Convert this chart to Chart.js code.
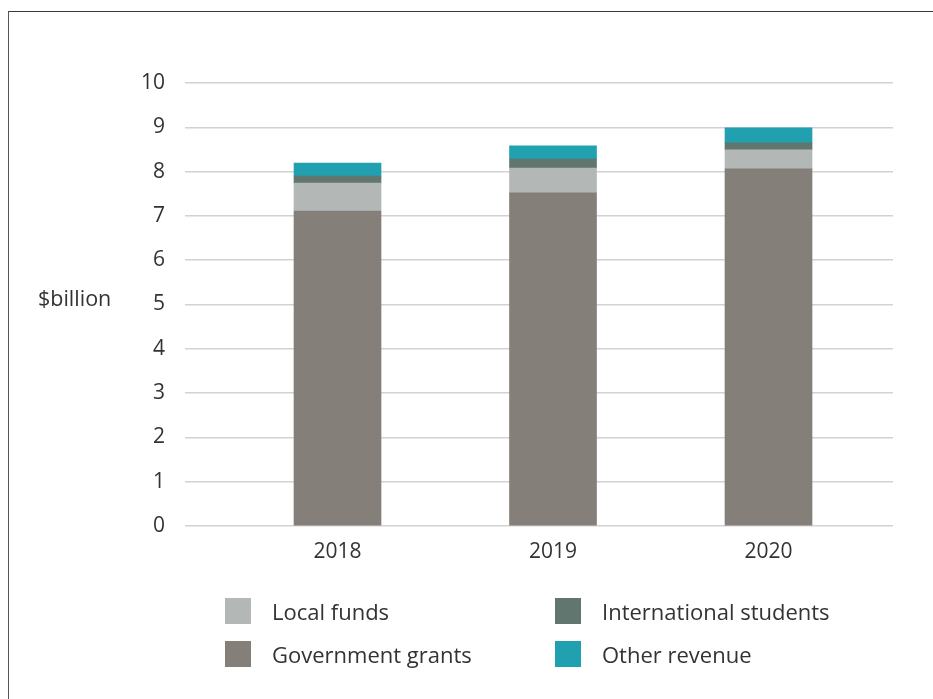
<!DOCTYPE html>
<html>
<head>
<meta charset="utf-8">
<script src="https://cdn.jsdelivr.net/npm/chart.js@4/dist/chart.umd.min.js"></script>
<style>
  html, body { margin: 0; padding: 0; background: #fff; }
  body { width: 933px; height: 699px; position: relative; overflow: hidden; font-family: "Open Sans", sans-serif; }
  #frame { position: absolute; left: 8px; top: 11px; width: 940px; height: 700px; border-top: 1.5px solid #3a3a3a; border-left: 1.5px solid #555; box-sizing: border-box; }
  #wrap { position: absolute; left: 0; top: 0; width: 933px; height: 699px; }
  .lg { position: absolute; height: 26px; display: flex; align-items: center; font-size: 22px; color: #333; white-space: nowrap; }
  .lg .sw { width: 26px; height: 26px; margin-right: 21px; flex: none; }
</style>
</head>
<body>
<div id="frame"></div>
<div id="wrap"><canvas id="c" width="933" height="699"></canvas></div>
<div id="legend"></div>
<script>
// ---- data ----
const years = ['2018', '2019', '2020'];
const governmentGrants = [7.11, 7.52, 8.06];
const localFunds = [0.63, 0.56, 0.43];
const internationalStudents = [0.16, 0.20, 0.16];
const otherRevenue = [0.29, 0.30, 0.34];
const yTicks = [0, 1, 2, 3, 4, 5, 6, 7, 8, 9, 10];
const yAxisLabel = '$billion';

const toPoints = arr => arr.map((v, i) => ({ x: i, y: v }));

const datasets = [
  { label: 'Government grants', data: toPoints(governmentGrants), backgroundColor: '#847f78' },
  { label: 'Local funds', data: toPoints(localFunds), backgroundColor: '#b3b8b7' },
  { label: 'International students', data: toPoints(internationalStudents), backgroundColor: '#61766f' },
  { label: 'Other revenue', data: toPoints(otherRevenue), backgroundColor: '#21a0b0' }
];

const FONT = { family: '"Open Sans", sans-serif', size: 21 };

const yLabelPlugin = {
  id: 'yLabel',
  afterDraw(chart) {
    const ctx = chart.ctx;
    ctx.save();
    ctx.font = '21.5px "Open Sans", sans-serif';
    ctx.fillStyle = '#333';
    ctx.textAlign = 'left';
    ctx.textBaseline = 'alphabetic';
    ctx.fillText(yAxisLabel, 38, 306);
    ctx.restore();
  }
};

const chart = new Chart(document.getElementById('c'), {
  type: 'bar',
  data: { datasets },
  plugins: [yLabelPlugin],
  options: {
    responsive: false,
    animation: false,
    layout: { padding: { left: 0, right: 40, top: 83, bottom: 133 } },
    plugins: { legend: { display: false }, tooltip: { enabled: false } },
    datasets: { bar: { barThickness: 87, borderWidth: 0 } },
    scales: {
      x: {
        type: 'linear',
        stacked: true,
        offset: false,
        min: -0.7077,
        max: 2.5777,
        grid: { display: false, offset: false },
        border: { display: false },
        afterBuildTicks(scale) { scale.ticks = years.map((_, i) => ({ value: i })); },
        afterFit(scale) { scale.height = 40; },
        ticks: {
          autoSkip: false,
          maxRotation: 0,
          padding: 5,
          color: '#333',
          font: FONT,
          callback: v => years[v]
        }
      },
      y: {
        stacked: true,
        min: 0,
        max: 10,
        afterBuildTicks(scale) { scale.ticks = yTicks.map(v => ({ value: v })); },
        afterFit(scale) { scale.width = 185; },
        grid: { color: '#d2d2d2', lineWidth: 1.5, drawTicks: false },
        border: { display: false },
        ticks: { padding: 20, color: '#333', font: FONT }
      }
    }
  }
});

// legend built from datasets: 2 columns, column-major order as in the reference
const legendOrder = ['Local funds', 'Government grants', 'International students', 'Other revenue'];
const colX = [225, 555];
const rowY = [598, 641];
const lg = document.getElementById('legend');
legendOrder.forEach((name, k) => {
  const ds = datasets.find(d => d.label === name);
  const el = document.createElement('div');
  el.className = 'lg';
  el.style.left = colX[Math.floor(k / 2)] + 'px';
  el.style.top = rowY[k % 2] + 'px';
  const sw = document.createElement('span');
  sw.className = 'sw';
  sw.style.background = ds.backgroundColor;
  const tx = document.createElement('span');
  tx.textContent = ds.label;
  el.appendChild(sw);
  el.appendChild(tx);
  lg.appendChild(el);
});
</script>
</body>
</html>
